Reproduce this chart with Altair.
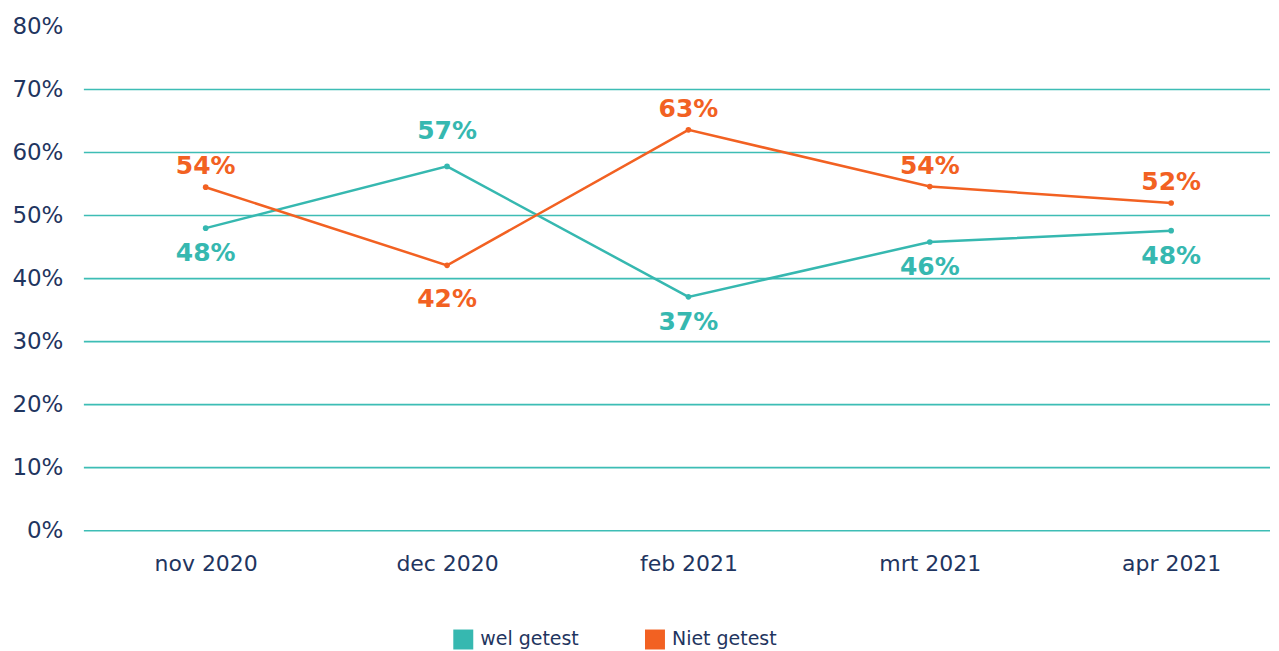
import altair as alt
import pandas as pd

months = ["nov 2020", "dec 2020", "feb 2021", "mrt 2021", "apr 2021"]
series = ["wel getest", "Niet getest"]
wel = [48.0, 57.8, 37.1, 45.8, 47.6]
niet = [54.5, 42.1, 63.6, 54.6, 52.0]
wel_labels = ["48%", "57%", "37%", "46%", "48%"]
niet_labels = ["54%", "42%", "63%", "54%", "52%"]
wel_pos = ["below", "far above", "below", "below", "below"]
niet_pos = ["above", "far below", "above", "above", "above"]
grid_values = [0, 10, 20, 30, 40, 50, 60, 70]
tick_values = [0, 10, 20, 30, 40, 50, 60, 70, 80]
colors = ["#36B8B0", "#F26122"]
NAVY = "#1F3560"
FONT = "DejaVu Sans"

rows = []
for s, vals, labs, poss in [(series[0], wel, wel_labels, wel_pos),
                            (series[1], niet, niet_labels, niet_pos)]:
    for m, v, l, p in zip(months, vals, labs, poss):
        rows.append({"month": m, "series": s, "value": v, "label": l, "pos": p})
df = pd.DataFrame(rows)
grid_df = pd.DataFrame({"g": grid_values})

x_enc = alt.X("month:N", sort=months,
              scale=alt.Scale(type="point", range=[122, 1089], padding=0),
              axis=alt.Axis(title=None, labelAngle=0, domain=False, ticks=False,
                            labelFontSize=22, labelColor=NAVY, labelFont=FONT,
                            labelPadding=23))
y_axis = alt.Axis(title=None, values=tick_values, grid=False, domain=False,
                  ticks=False, labelExpr="datum.value + '%'",
                  labelFontSize=23, labelColor=NAVY, labelFont=FONT,
                  labelPadding=21)
y_scale = alt.Scale(domain=[0, 80], nice=False)
y_enc = alt.Y("value:Q", scale=y_scale, axis=y_axis)
color_scale = alt.Scale(domain=series, range=colors)
legend = alt.Legend(title=None, orient="none", direction="horizontal",
                    legendX=370, legendY=604,
                    symbolType="square", symbolSize=400,
                    symbolStrokeWidth=0, labelFontSize=19,
                    labelColor=NAVY, labelFont=FONT,
                    labelOffset=7, columnPadding=66)
color_enc = alt.Color("series:N", scale=color_scale, legend=legend)

grid = alt.Chart(grid_df).mark_rule(color="#3DBDB5", strokeWidth=1.6).encode(
    y=alt.Y("g:Q", scale=y_scale, axis=y_axis)
)

base = alt.Chart(df)

lines = base.mark_line(strokeWidth=2.5).encode(
    x=x_enc, y=y_enc, color=color_enc, detail="series:N",
)

points = base.mark_point(filled=True, size=32, opacity=1).encode(
    x=x_enc, y=y_enc, color=color_enc,
)

label_layers = []
for pos_name, offset in [("above", -21), ("below", 25), ("far above", -35), ("far below", 34)]:
    label_layers.append(
        base.transform_filter(alt.datum.pos == pos_name).mark_text(
            dy=offset, fontSize=25, fontWeight="bold", font=FONT, baseline="middle"
        ).encode(x=x_enc, y=y_enc, text="label:N", color=color_enc)
    )

chart = alt.layer(grid, lines, points, *label_layers).properties(
    width=1188, height=505,
    padding={"left": 3, "top": 7, "right": 0, "bottom": 0},
    background="white",
).configure_view(stroke=None)

chart.save("out.html", embed_options={"renderer": "svg", "actions": False})
